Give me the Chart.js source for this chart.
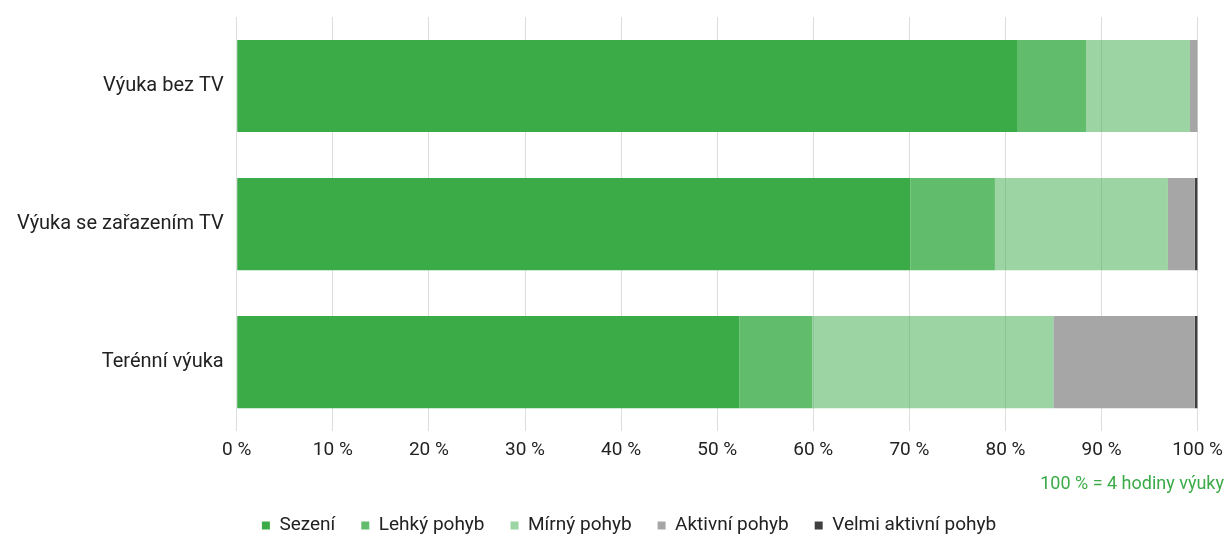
<!DOCTYPE html>
<html lang="cs">
<head>
<meta charset="utf-8">
<script src="https://cdn.jsdelivr.net/npm/chart.js@4.4.1/dist/chart.umd.min.js"></script>
<style>
  html, body { margin: 0; padding: 0; background: #fff; }
  #wrap { position: relative; width: 1231px; height: 534px; }
  #note {
    position: absolute; right: 7px; top: 472px;
    font-family: "Roboto", sans-serif;
    font-size: 18px; color: #3aab47;
  }
</style>
</head>
<body>
<div id="wrap">
  <canvas id="chart" width="1231" height="534"></canvas>
  <div id="note">100 % = 4 hodiny výuky</div>
</div>
<script>
// kategorie výuky
const categories = ['Výuka bez TV', 'Výuka se zařazením TV', 'Terénní výuka'];

// podíl času (%) podle intenzity pohybu
const sezeni = [81.2, 70.1, 52.3];
const lehky = [7.2, 8.8, 7.6];
const mirny = [10.8, 18.0, 25.1];
const aktivni = [0.8, 2.8, 14.7];
const velmiAktivni = [0.0, 0.3, 0.3];

const seriesNames = ['Sezení', 'Lehký pohyb', 'Mírný pohyb', 'Aktivní pohyb', 'Velmi aktivní pohyb'];
const seriesColors = ['#3aab47', 'rgba(58,171,71,0.8)', 'rgba(58,171,71,0.5)', '#a6a6a6', '#404040'];

const fontFamily = '"Roboto", sans-serif';

// legendu posuneme níž a trochu doprava
const legendShift = {
    id: 'legendShift',
    beforeInit(chart) {
        const fit = chart.legend.fit;
        chart.legend.fit = function () {
            fit.call(this);
            this.height -= 11;
        };
    },
    afterLayout(chart) {
        chart.legend.left += 20;
        chart.legend.right += 20;
    }
};

const ctx = document.getElementById('chart').getContext('2d');
new Chart(ctx, {
    type: 'bar',
    data: {
        labels: categories,
        datasets: [sezeni, lehky, mirny, aktivni, velmiAktivni].map((d, i) => ({
            label: seriesNames[i],
            data: d,
            backgroundColor: seriesColors[i],
            borderWidth: 0,
            barPercentage: 0.667,
            categoryPercentage: 1
        }))
    },
    options: {
        indexAxis: 'y',
        responsive: false,
        animation: false,
        layout: { padding: { top: 6, right: 25, bottom: 0, left: 12 } },
        scales: {
            x: {
                stacked: true,
                min: 0,
                max: 100,
                grid: { color: '#dedede', drawTicks: false },
                border: { display: false },
                afterFit(scale) { scale.height += 20; },
                ticks: {
                    stepSize: 10,
                    padding: 8,
                    color: '#222',
                    font: { family: fontFamily, size: 19 },
                    callback: v => v + ' %'
                }
            },
            y: {
                stacked: true,
                grid: { display: false },
                border: { display: false },
                ticks: {
                    padding: 5,
                    color: '#222',
                    font: { family: fontFamily, size: 20 }
                }
            }
        },
        plugins: {
            legend: {
                position: 'bottom',
                labels: {
                    boxWidth: 8,
                    boxHeight: 8,
                    padding: 26,
                    color: '#222',
                    font: { family: fontFamily, size: 19 }
                }
            },
            tooltip: { enabled: false }
        }
    },
    plugins: [legendShift]
});
</script>
</body>
</html>
